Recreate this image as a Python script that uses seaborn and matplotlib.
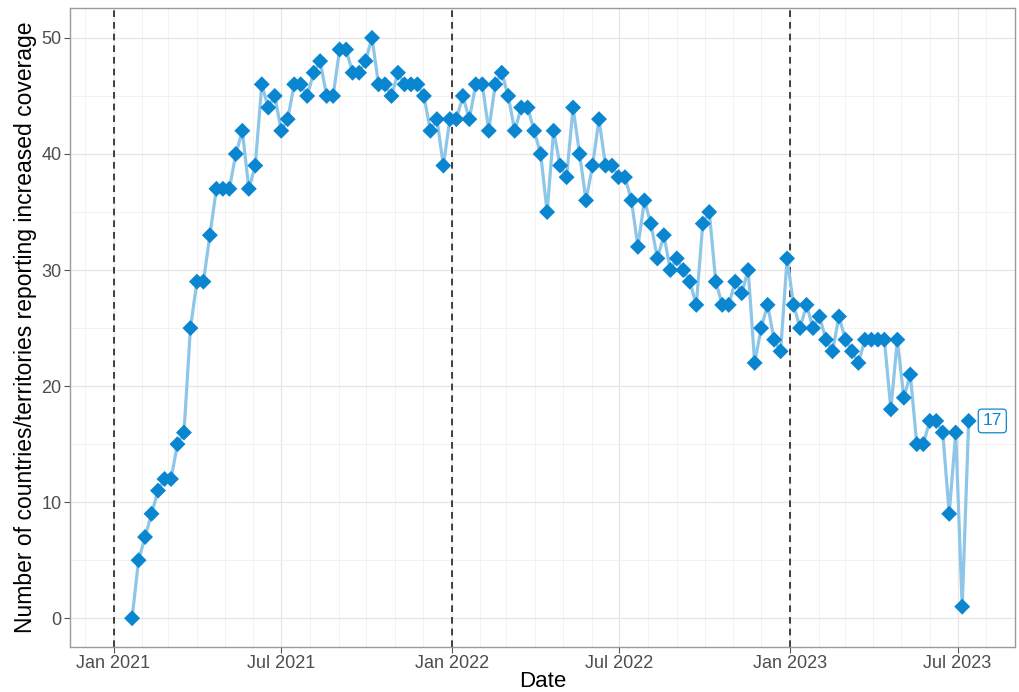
import numpy as np
import pandas as pd
import matplotlib
matplotlib.use('Agg')
import matplotlib.pyplot as plt
import matplotlib.dates as mdates
import seaborn as sns

# weekly counts
start_date = '2021-01-21'
n_countries = [0, 5, 7, 9, 11, 12, 12, 15, 16, 25,
               29, 29, 33, 37, 37, 37, 40, 42, 37, 39,
               46, 44, 45, 42, 43, 46, 46, 45, 47, 48,
               45, 45, 49, 49, 47, 47, 48, 50, 46, 46,
               45, 47, 46, 46, 46, 45, 42, 43, 39, 43,
               43, 45, 43, 46, 46, 42, 46, 47, 45, 42,
               44, 44, 42, 40, 35, 42, 39, 38, 44, 40,
               36, 39, 43, 39, 39, 38, 38, 36, 32, 36,
               34, 31, 33, 30, 31, 30, 29, 27, 34, 35,
               29, 27, 27, 29, 28, 30, 22, 25, 27, 24,
               23, 31, 27, 25, 27, 25, 26, 24, 23, 26,
               24, 23, 22, 24, 24, 24, 24, 18, 24, 19,
               21, 15, 15, 17, 17, 16, 9, 16, 1, 17]
year_marks = ['2021-01-01', '2022-01-01', '2023-01-01']
y_ticks = [0, 10, 20, 30, 40, 50]

dates = pd.date_range(start_date, periods=len(n_countries), freq='7D')
df = pd.DataFrame({'date': dates, 'count': n_countries})

line_col = '#8DC6E8'
point_col = '#0A86D1'

sns.set_theme(style='white')
plt.rcParams['font.family'] = ['Liberation Sans', 'DejaVu Sans']

fig = plt.figure(figsize=(10.19, 6.92), dpi=100)
ax = fig.add_axes([70 / 1019, 1 - 646.7 / 692, 945 / 1019, 638.4 / 692])

for d in year_marks:
    ax.axvline(pd.Timestamp(d), color='#222222', lw=1.2, ls=(0, (4, 3)), zorder=2)

sns.lineplot(data=df, x='date', y='count', color=line_col, lw=2.3, ax=ax, zorder=3)
sns.scatterplot(data=df, x='date', y='count', color=point_col, marker='D', s=66,
                edgecolor='none', ax=ax, zorder=4)

last = df.iloc[-1]
ax.annotate(str(last['count']), xy=(last['date'], last['count']), xytext=(17, 0),
            textcoords='offset points', ha='center', va='center', color=point_col,
            fontsize=12.5,
            bbox=dict(boxstyle='round,pad=0.25,rounding_size=0.2', fc='white',
                      ec=point_col, lw=0.9))

ax.set_xlim(pd.Timestamp('2020-11-15'), pd.Timestamp('2023-09-01'))
ax.set_ylim(-2.45, 52.55)
ax.set_yticks(y_ticks)
ax.set_yticks([5, 15, 25, 35, 45], minor=True)
ax.xaxis.set_major_locator(mdates.MonthLocator(bymonth=[1, 7]))
ax.xaxis.set_minor_locator(mdates.MonthLocator())
ax.xaxis.set_major_formatter(mdates.DateFormatter('%b %Y'))

ax.grid(which='major', color='#E6E6E6', lw=0.9)
ax.grid(which='minor', color='#F0F0F0', lw=0.6)
ax.set_axisbelow(True)
for sp in ax.spines.values():
    sp.set_color('#9A9A9A')
    sp.set_linewidth(1.0)

ax.tick_params(which='major', length=4, width=0.8, color='#555555',
               labelsize=13, labelcolor='#4D4D4D', bottom=True, left=True, pad=2)
ax.tick_params(which='minor', length=0)

ax.set_xlabel('Date', fontsize=16, color='black', labelpad=-1)
ax.set_ylabel('Number of countries/territories reporting increased coverage',
              fontsize=16.5, color='black', labelpad=3)

fig.savefig('out.png', dpi=100)
